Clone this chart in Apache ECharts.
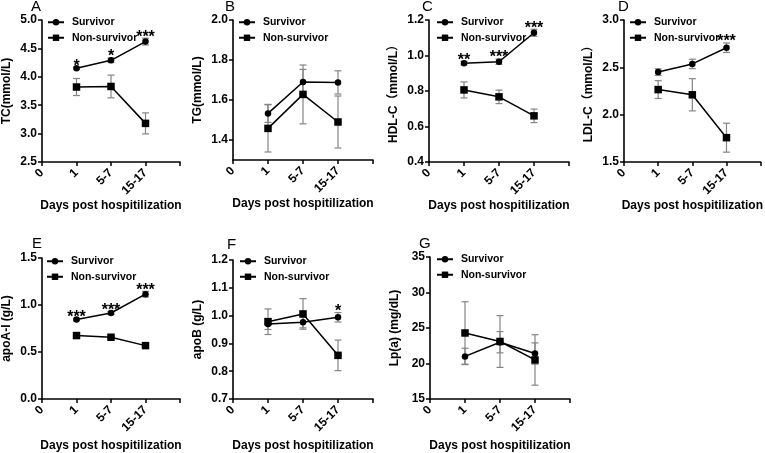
<!DOCTYPE html>
<html>
<head>
<meta charset="utf-8">
<script src="https://cdn.jsdelivr.net/npm/echarts@6/dist/echarts.min.js"></script>
<style>
html,body{margin:0;padding:0;background:#fff;}
#chart{width:765px;height:453px;}
</style>
</head>
<body>
<div id="chart"></div>
<script>
// ---- data ----
const days = ["0", "1", "5-7", "15-17", ""];
const seriesNames = ["Survivor", "Non-survivor"];
const panelLetters = ["A", "B", "C", "D", "E", "F", "G"];
const yTitles = ["TC(mmol/L)", "TG(mmol/L)", "HDL-C（mmol/L）", "LDL-C（mmol/L）", "apoA-I (g/L)", "apoB (g/L)", "Lp(a) (mg/dL)"];
const xTitle = "Days post hospitilization";

// A: TC
const tcSurv = [4.15, 4.29, 4.62];
const tcSurvErr = [0.02, 0.04, 0.06];
const tcNon = [3.82, 3.83, 3.18];
const tcNonErr = [0.15, 0.20, 0.185];
const tcSig = ["*", "*", "***"];
const tcTicks = [2.5, 3.0, 3.5, 4.0, 4.5, 5.0];

// B: TG
const tgSurv = [1.533, 1.69, 1.688];
const tgSurvErr = [0.045, 0.063, 0.058];
const tgNon = [1.458, 1.628, 1.49];
const tgNonErr = [0.118, 0.147, 0.13];
const tgSig = ["", "", ""];
const tgTicks = [1.4, 1.6, 1.8, 2.0];

// C: HDL-C
const hdlSurv = [0.957, 0.965, 1.128];
const hdlSurvErr = [0.01, 0.015, 0.02];
const hdlNon = [0.806, 0.767, 0.66];
const hdlNonErr = [0.045, 0.038, 0.038];
const hdlSig = ["**", "***", "***"];
const hdlTicks = [0.4, 0.6, 0.8, 1.0, 1.2];

// D: LDL-C
const ldlSurv = [2.45, 2.536, 2.707];
const ldlSurvErr = [0.035, 0.05, 0.05];
const ldlNon = [2.265, 2.21, 1.757];
const ldlNonErr = [0.094, 0.17, 0.153];
const ldlSig = ["", "", "***"];
const ldlTicks = [1.5, 2.0, 2.5, 3.0];

// E: apoA-I
const apoaSurv = [0.845, 0.915, 1.115];
const apoaSurvErr = [0.012, 0.015, 0.03];
const apoaNon = [0.675, 0.657, 0.568];
const apoaNonErr = [0.01, 0.012, 0.015];
const apoaSig = ["***", "***", "***"];
const apoaTicks = [0.0, 0.5, 1.0, 1.5];

// F: apoB
const apobSurv = [0.97, 0.976, 0.994];
const apobSurvErr = [0.02, 0.02, 0.017];
const apobNon = [0.978, 1.006, 0.857];
const apobNonErr = [0.046, 0.055, 0.055];
const apobSig = ["", "", "*"];
const apobTicks = [0.7, 0.8, 0.9, 1.0, 1.1, 1.2];

// G: Lp(a)
const lpaSurv = [21.0, 23.0, 21.4];
const lpaSurvErr = [1.15, 1.5, 1.5];
const lpaNon = [24.3, 23.1, 20.5];
const lpaNonErr = [4.4, 3.65, 3.55];
const lpaSig = ["", "", ""];
const lpaTicks = [15, 20, 25, 30, 35];

// ---- layout (positions / styles only) ----
const FONT = '"Liberation Sans", Arial, "Noto Sans CJK SC", sans-serif';
const grids = [
  {left: 40, top: 20, width: 140, height: 142},
  {left: 233, top: 20, width: 140, height: 140},
  {left: 429, top: 20, width: 140, height: 142},
  {left: 624, top: 20, width: 140, height: 142},
  {left: 40, top: 258, width: 140, height: 141},
  {left: 233, top: 260, width: 140, height: 139},
  {left: 430, top: 257, width: 140, height: 142}
];
const decimals = [1, 1, 1, 1, 1, 1, 0];
const letterPos = [[31, -1], [225, -1], [422, -1], [618, -1], [32, 236], [227, 237], [419, 236]];
const legendPos = [[42, 12], [233, 12], [431, 12], [624, 12], [41, 251], [234, 251], [431, 249]];

const panels = [
  [tcSurv, tcSurvErr, tcNon, tcNonErr, tcSig, tcTicks],
  [tgSurv, tgSurvErr, tgNon, tgNonErr, tgSig, tgTicks],
  [hdlSurv, hdlSurvErr, hdlNon, hdlNonErr, hdlSig, hdlTicks],
  [ldlSurv, ldlSurvErr, ldlNon, ldlNonErr, ldlSig, ldlTicks],
  [apoaSurv, apoaSurvErr, apoaNon, apoaNonErr, apoaSig, apoaTicks],
  [apobSurv, apobSurvErr, apobNon, apobNonErr, apobSig, apobTicks],
  [lpaSurv, lpaSurvErr, lpaNon, lpaNonErr, lpaSig, lpaTicks]
];
const yMin = [2.5, 1.3, 0.4, 1.5, 0.0, 0.7, 15];
const yMax = [5.0, 2.0, 1.2, 3.0, 1.5, 1.2, 35];

const pts = (vals) => vals.map((v, k) => [days[k + 1], v]);
const errPts = (vals, errs) => vals.map((v, k) => [days[k + 1], v, errs[k]]);

function errRender(params, api) {
  const x = api.value(0), m = api.value(1), e = api.value(2);
  const t = api.coord([x, m + e]);
  const b = api.coord([x, m - e]);
  const w = 3.5;
  const st = {stroke: '#858585', lineWidth: 1.2};
  return {type: 'group', children: [
    {type: 'line', shape: {x1: t[0], y1: t[1], x2: b[0], y2: b[1]}, style: st},
    {type: 'line', shape: {x1: t[0] - w, y1: t[1], x2: t[0] + w, y2: t[1]}, style: st},
    {type: 'line', shape: {x1: b[0] - w, y1: b[1], x2: b[0] + w, y2: b[1]}, style: st}
  ]};
}

const xAxes = [], yAxes = [], series = [], legends = [], graphics = [];
panels.forEach((p, i) => {
  const [sv, se, nv, ne, sig, ticks] = p;
  xAxes.push({
    type: 'category', gridIndex: i, data: days, boundaryGap: false,
    axisLine: {lineStyle: {color: '#000', width: 1.6}},
    axisTick: {show: true, length: 4, lineStyle: {color: '#000', width: 1.5}, alignWithLabel: true},
    axisLabel: {rotate: 45, margin: 9, color: '#000', fontWeight: 'bold', fontSize: 12, fontFamily: FONT, interval: 0},
    name: xTitle, nameLocation: 'middle', nameGap: i < 4 ? 38 : 41,
    nameTextStyle: {color: '#000', fontWeight: 'bold', fontSize: 12, fontFamily: FONT},
    splitLine: {show: false}
  });
  yAxes.push({
    type: 'value', gridIndex: i, min: yMin[i], max: yMax[i],
    axisLine: {show: true, lineStyle: {color: '#000', width: 1.6}},
    axisTick: {show: true, length: 4, lineStyle: {color: '#000', width: 1.5}, customValues: ticks},
    axisLabel: {color: '#000', fontWeight: 'bold', fontSize: 12, fontFamily: FONT, margin: 5,
      customValues: ticks, formatter: (v) => Number(v).toFixed(decimals[i])},
    splitLine: {show: false},
    name: yTitles[i], nameLocation: 'middle', nameGap: 29,
    nameTextStyle: {color: '#000', fontWeight: 'bold', fontSize: 12, fontFamily: FONT}
  });
  series.push({
    type: 'custom', name: 'errS' + i, xAxisIndex: i, yAxisIndex: i, z: 1,
    renderItem: errRender, data: errPts(sv, se), silent: true
  });
  series.push({
    type: 'custom', name: 'errN' + i, xAxisIndex: i, yAxisIndex: i, z: 1,
    renderItem: errRender, data: errPts(nv, ne), silent: true
  });
  series.push({
    type: 'line', name: seriesNames[0], xAxisIndex: i, yAxisIndex: i, z: 3,
    data: pts(sv), symbol: 'circle', symbolSize: 6.5, showAllSymbol: true,
    itemStyle: {color: '#000'}, lineStyle: {color: '#000', width: 1.5}
  });
  series.push({
    type: 'line', name: seriesNames[1], xAxisIndex: i, yAxisIndex: i, z: 3,
    data: pts(nv), symbol: 'rect', symbolSize: 7.5, showAllSymbol: true,
    itemStyle: {color: '#000'}, lineStyle: {color: '#000', width: 1.5}
  });
  series.push({
    type: 'custom', name: 'sig' + i, xAxisIndex: i, yAxisIndex: i, z: 4, silent: true,
    data: errPts(sv, se),
    renderItem: (params, api) => {
      const c = api.coord([api.value(0), api.value(1) + api.value(2)]);
      return {type: 'text', x: c[0], y: c[1] + 7,
        style: {text: sig[params.dataIndex], fill: '#000', font: 'bold 16px ' + FONT,
          textAlign: 'center', textVerticalAlign: 'bottom'}};
    }
  });
  legends.push({
    left: legendPos[i][0], top: legendPos[i][1], orient: 'vertical',
    itemWidth: 16, itemHeight: 8, itemGap: 5,
    data: seriesNames, selectedMode: false,
    formatter: (n) => ' ' + n,
    textStyle: {color: '#000', fontWeight: 'bold', fontSize: 10.5, fontFamily: FONT}
  });
  graphics.push({
    type: 'text', left: letterPos[i][0], top: letterPos[i][1],
    style: {text: panelLetters[i], fill: '#000', font: '15px ' + FONT}
  });
});

const chart = echarts.init(document.getElementById('chart'), null, {renderer: 'canvas'});
chart.setOption({
  animation: false,
  backgroundColor: '#fff',
  grid: grids,
  xAxis: xAxes,
  yAxis: yAxes,
  legend: legends,
  graphic: graphics,
  series: series
});
</script>
</body>
</html>
